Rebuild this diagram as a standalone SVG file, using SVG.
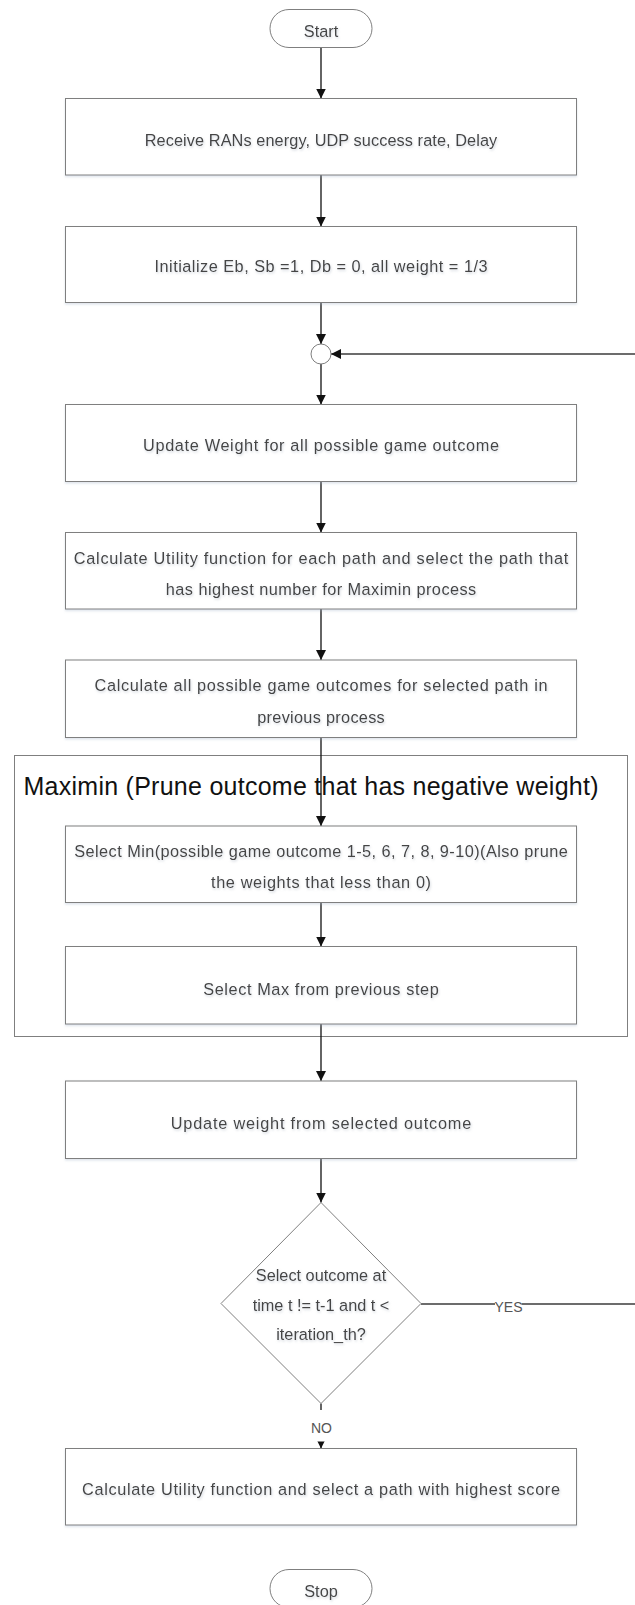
<svg xmlns="http://www.w3.org/2000/svg" width="635" height="1605" viewBox="0 0 635 1605">
  <style>
    .box { fill: #ffffff; stroke: #7f7f7f; stroke-width: 1; filter: url(#boxShadow); }
    .shape { fill: #ffffff; stroke: #7f7f7f; stroke-width: 1; }
    .txt { font-family: "Liberation Sans", Arial, sans-serif; font-size: 16.3px; fill: #444444; text-anchor: middle; filter: url(#textShadow); }
    .title { font-family: "Liberation Sans", Arial, sans-serif; font-size: 25px; fill: #111111; }
    .lbl { font-family: "Liberation Sans", Arial, sans-serif; font-size: 14px; fill: #555555; text-anchor: middle; }
    .edge { fill: none; stroke: #111111; stroke-width: 1.3; marker-end: url(#arrow); }
    .loop { fill: none; stroke: #3c3c3c; stroke-width: 1.6; }
    .cover { fill: #ffffff; stroke: none; }
  </style>
  <defs>
    <marker id="arrow" markerUnits="userSpaceOnUse" markerWidth="10" markerHeight="10" refX="10" refY="5" orient="auto">
      <path d="M0,0 L10,5 L0,10 z" fill="#111111"/>
    </marker>
    <filter id="boxShadow" x="-5%" y="-10%" width="110%" height="125%">
      <feDropShadow dx="0" dy="1.5" stdDeviation="1.2" flood-color="#9fb0c8" flood-opacity="0.35"/>
    </filter>
    <filter id="textShadow" x="-5%" y="-30%" width="110%" height="160%">
      <feDropShadow dx="0.8" dy="1.5" stdDeviation="0.9" flood-color="#b4bcc8" flood-opacity="0.6"/>
    </filter>
  </defs>

  <!-- container for the maximin sub-process -->
  <g id="maximin">
    <rect x="14.5" y="755.5" width="613" height="281" fill="#ffffff" stroke="#7f7f7f" stroke-width="1"/>
    <text class="title" x="23.5" y="795" textLength="575">Maximin (Prune outcome that has negative weight)</text>
  </g>

  <!-- connectors -->
  <g id="connectors">
    <line class="edge" x1="321" y1="47.5" x2="321" y2="98.5"/>
    <line class="edge" x1="321" y1="175" x2="321" y2="226.5"/>
    <line class="edge" x1="321" y1="302.5" x2="321" y2="344"/>
    <line class="edge" x1="321" y1="364" x2="321" y2="404.5"/>
    <line class="edge" x1="321" y1="481.5" x2="321" y2="532.5"/>
    <line class="edge" x1="321" y1="609" x2="321" y2="660"/>
    <line class="edge" x1="321" y1="737.5" x2="321" y2="826"/>
    <line class="edge" x1="321" y1="902.5" x2="321" y2="946.5"/>
    <line class="edge" x1="321" y1="1024" x2="321" y2="1081"/>
    <line class="edge" x1="321" y1="1158.5" x2="321" y2="1202.5"/>
    <!-- NO branch -->
    <line class="edge" x1="321" y1="1403.5" x2="321" y2="1448.5"/>
    <rect class="cover" x="306" y="1410" width="30" height="31.5"/>
    <text class="lbl" x="321.5" y="1433" font-size="15">NO</text>
    <!-- YES branch loops back to the merge point -->
    <path class="loop" d="M421,1304 H640 V354 H331" marker-end="url(#arrow)"/>
    <rect class="cover" x="495" y="1294" width="26.5" height="20"/>
    <text class="lbl" x="508.5" y="1312" font-size="13">YES</text>
  </g>

  <!-- nodes -->
  <g id="start">
    <rect class="shape" x="270" y="9.5" width="102" height="38" rx="19"/>
    <text class="txt" x="321" y="36.5">Start</text>
  </g>

  <g id="receive">
    <rect class="box" x="65.5" y="98.5" width="511" height="76.5"/>
    <text class="txt" x="321" y="145.5" textLength="352.5">Receive RANs energy, UDP success rate, Delay</text>
  </g>

  <g id="initialize">
    <rect class="box" x="65.5" y="226.5" width="511" height="76"/>
    <text class="txt" x="321" y="272" textLength="333">Initialize Eb, Sb =1, Db = 0, all weight = 1/3</text>
  </g>

  <g id="merge">
    <circle class="shape" cx="321" cy="354" r="10"/>
  </g>

  <g id="update-all">
    <rect class="box" x="65.5" y="404.5" width="511" height="77"/>
    <text class="txt" x="321" y="450.5" textLength="356">Update Weight for all possible game outcome</text>
  </g>

  <g id="utility-maximin">
    <rect class="box" x="65.5" y="532.5" width="511" height="76.5"/>
    <text class="txt" x="321" y="564" textLength="494.5">Calculate Utility function for each path and select the path that</text>
    <text class="txt" x="321" y="594.5" textLength="310.5">has highest number for Maximin process</text>
  </g>

  <g id="outcomes">
    <rect class="box" x="65.5" y="660" width="511" height="77.5"/>
    <text class="txt" x="321" y="691" textLength="453">Calculate all possible game outcomes for selected path in</text>
    <text class="txt" x="321" y="722.5" textLength="127.5">previous process</text>
  </g>

  <g id="select-min">
    <rect class="box" x="65.5" y="826" width="511" height="76.5"/>
    <text class="txt" x="321" y="857" textLength="493.5">Select Min(possible game outcome 1-5, 6, 7, 8, 9-10)(Also prune</text>
    <text class="txt" x="321" y="887.5" textLength="220">the weights that less than 0)</text>
  </g>

  <g id="select-max">
    <rect class="box" x="65.5" y="946.5" width="511" height="77.5"/>
    <text class="txt" x="321" y="995" textLength="235.5">Select Max from previous step</text>
  </g>

  <g id="update-selected">
    <rect class="box" x="65.5" y="1081" width="511" height="77.5"/>
    <text class="txt" x="321" y="1128.5" textLength="300.5">Update weight from selected outcome</text>
  </g>

  <g id="decision">
    <polygon class="shape" points="321,1202.5 421,1303.5 321,1403.5 221,1303.5"/>
    <text class="txt" x="321" y="1281">Select outcome at</text>
    <text class="txt" x="321" y="1311">time t != t-1 and t &lt;</text>
    <text class="txt" x="321" y="1340">iteration_th?</text>
  </g>

  <g id="final-utility">
    <rect class="box" x="65.5" y="1448.5" width="511" height="76.5"/>
    <text class="txt" x="321" y="1495" textLength="478">Calculate Utility function and select a path with highest score</text>
  </g>

  <g id="stop">
    <rect class="shape" x="270" y="1569.5" width="102" height="38" rx="19"/>
    <text class="txt" x="321" y="1596.5">Stop</text>
  </g>
</svg>
